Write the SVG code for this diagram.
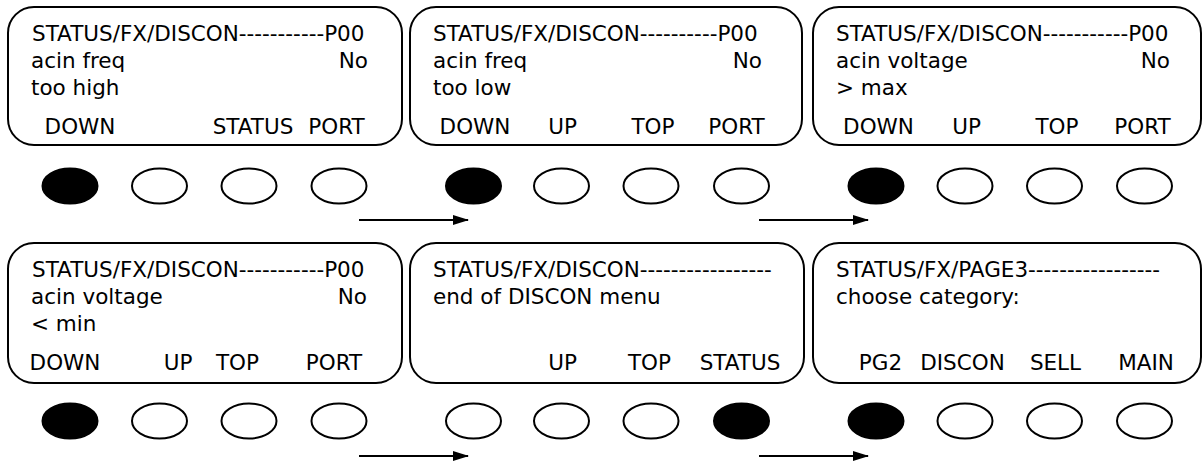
<svg xmlns="http://www.w3.org/2000/svg" width="1203" height="464" viewBox="0 0 1203 464">
<style>
.box{fill:#fff;stroke:#000;stroke-width:2}
.t{font-family:"DejaVu Sans","Liberation Sans",sans-serif;font-size:21.5px;fill:#000}
.e{text-anchor:end}
.m{text-anchor:middle}
.b{fill:#fff;stroke:#000;stroke-width:2}
.on{fill:#000;stroke:#000;stroke-width:2}
.arr{stroke:#000;stroke-width:2;fill:none;marker-end:url(#ah)}
</style>
<defs>
<marker id="ah" markerWidth="16" markerHeight="10" refX="15" refY="5" orient="auto" markerUnits="userSpaceOnUse">
<path d="M0,0 L16,5 L0,10 z" fill="#000"/>
</marker>
</defs>
<rect width="1203" height="464" fill="#fff"/>

<g id="screen1">
<rect class="box" x="8" y="7" width="394" height="138" rx="26"/>
<text class="t" x="32" y="41">STATUS/FX/DISCON-----------P00</text>
<text class="t" x="31" y="68">acin freq</text>
<text class="t e" x="368" y="68">No</text>
<text class="t" x="31" y="95">too high</text>
<text class="t m" x="80" y="134">DOWN</text>
<text class="t m" x="253" y="134">STATUS</text>
<text class="t m" x="336.5" y="134">PORT</text>
<ellipse class="on" cx="70" cy="186" rx="27.5" ry="17.5"/>
<ellipse class="b" cx="159.5" cy="186" rx="27.5" ry="17.5"/>
<ellipse class="b" cx="249" cy="186" rx="27.5" ry="17.5"/>
<ellipse class="b" cx="339" cy="186" rx="27.5" ry="17.5"/>
</g>

<g id="screen2">
<rect class="box" x="410" y="7" width="392" height="138" rx="26"/>
<text class="t" x="433" y="41">STATUS/FX/DISCON----------P00</text>
<text class="t" x="433" y="68">acin freq</text>
<text class="t e" x="762" y="68">No</text>
<text class="t" x="433" y="95">too low</text>
<text class="t m" x="475" y="134">DOWN</text>
<text class="t m" x="562.5" y="134">UP</text>
<text class="t m" x="653" y="134">TOP</text>
<text class="t m" x="736.5" y="134">PORT</text>
<ellipse class="on" cx="473.5" cy="186" rx="27.5" ry="17.5"/>
<ellipse class="b" cx="561.5" cy="186" rx="27.5" ry="17.5"/>
<ellipse class="b" cx="651" cy="186" rx="27.5" ry="17.5"/>
<ellipse class="b" cx="741.5" cy="186" rx="27.5" ry="17.5"/>
</g>

<g id="screen3">
<rect class="box" x="813" y="7" width="388" height="138" rx="26"/>
<text class="t" x="836" y="41">STATUS/FX/DISCON-----------P00</text>
<text class="t" x="836" y="68">acin voltage</text>
<text class="t e" x="1170" y="68">No</text>
<text class="t" x="836" y="95">&gt; max</text>
<text class="t m" x="878.5" y="134">DOWN</text>
<text class="t m" x="966.5" y="134">UP</text>
<text class="t m" x="1057" y="134">TOP</text>
<text class="t m" x="1142.5" y="134">PORT</text>
<ellipse class="on" cx="876" cy="186" rx="27.5" ry="17.5"/>
<ellipse class="b" cx="965" cy="186" rx="27.5" ry="17.5"/>
<ellipse class="b" cx="1054.5" cy="186" rx="27.5" ry="17.5"/>
<ellipse class="b" cx="1144.5" cy="186" rx="27.5" ry="17.5"/>
</g>

<g id="screen4">
<rect class="box" x="8" y="243" width="394" height="140" rx="26"/>
<text class="t" x="32" y="277">STATUS/FX/DISCON-----------P00</text>
<text class="t" x="31" y="304">acin voltage</text>
<text class="t e" x="367" y="304">No</text>
<text class="t" x="31" y="331">&lt; min</text>
<text class="t m" x="65" y="370">DOWN</text>
<text class="t m" x="178" y="370">UP</text>
<text class="t m" x="237.5" y="370">TOP</text>
<text class="t m" x="334" y="370">PORT</text>
<ellipse class="on" cx="70" cy="421" rx="27.5" ry="17.5"/>
<ellipse class="b" cx="159.5" cy="421" rx="27.5" ry="17.5"/>
<ellipse class="b" cx="249" cy="421" rx="27.5" ry="17.5"/>
<ellipse class="b" cx="339" cy="421" rx="27.5" ry="17.5"/>
</g>

<g id="screen5">
<rect class="box" x="410" y="243" width="394" height="140" rx="26"/>
<text class="t" x="433" y="277">STATUS/FX/DISCON-----------------</text>
<text class="t" x="433" y="304">end of DISCON menu</text>
<text class="t m" x="562.5" y="370">UP</text>
<text class="t m" x="649.5" y="370">TOP</text>
<text class="t m" x="740" y="370">STATUS</text>
<ellipse class="b" cx="473.5" cy="421" rx="27.5" ry="17.5"/>
<ellipse class="b" cx="561.5" cy="421" rx="27.5" ry="17.5"/>
<ellipse class="b" cx="651" cy="421" rx="27.5" ry="17.5"/>
<ellipse class="on" cx="741.5" cy="421" rx="27.5" ry="17.5"/>
</g>

<g id="screen6">
<rect class="box" x="813" y="243" width="388" height="140" rx="26"/>
<text class="t" x="836" y="277">STATUS/FX/PAGE3-----------------</text>
<text class="t" x="836" y="304">choose category:</text>
<text class="t m" x="880.5" y="370">PG2</text>
<text class="t m" x="962.5" y="370">DISCON</text>
<text class="t m" x="1055.5" y="370">SELL</text>
<text class="t m" x="1146" y="370">MAIN</text>
<ellipse class="on" cx="876" cy="421" rx="27.5" ry="17.5"/>
<ellipse class="b" cx="965" cy="421" rx="27.5" ry="17.5"/>
<ellipse class="b" cx="1054.5" cy="421" rx="27.5" ry="17.5"/>
<ellipse class="b" cx="1144.5" cy="421" rx="27.5" ry="17.5"/>
</g>

<g id="connectors">
<line class="arr" x1="359" y1="220" x2="468" y2="220"/>
<line class="arr" x1="759" y1="220" x2="868" y2="220"/>
<line class="arr" x1="359" y1="456" x2="468" y2="456"/>
<line class="arr" x1="759" y1="456" x2="868" y2="456"/>
</g>
</svg>
